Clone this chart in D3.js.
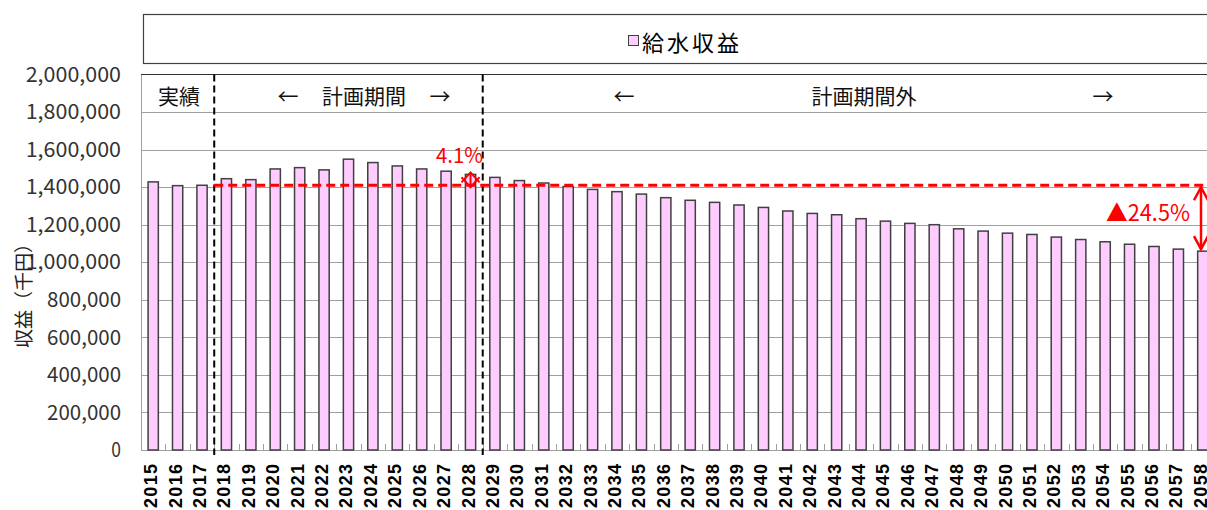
<!DOCTYPE html>
<html>
<head>
<meta charset="utf-8">
<script src="https://cdn.jsdelivr.net/npm/d3@7"></script>
<style>
  body { margin: 0; background: #fff; }
  svg { display: block; }
  .jp { font-family: "Noto Sans CJK JP", sans-serif; }
</style>
</head>
<body>
<div id="chart"></div>
<script>
// Data
const years = ["2015", "2016", "2017", "2018", "2019", "2020", "2021", "2022", "2023", "2024",
    "2025", "2026", "2027", "2028", "2029", "2030", "2031", "2032", "2033", "2034",
    "2035", "2036", "2037", "2038", "2039", "2040", "2041", "2042", "2043", "2044",
    "2045", "2046", "2047", "2048", "2049", "2050", "2051", "2052", "2053", "2054",
    "2055", "2056", "2057", "2058"];
const revenue = [1428000, 1408000, 1410000, 1445000, 1440000, 1497000, 1504000, 1492000, 1549000, 1531000,
    1513000, 1497000, 1485000, 1468000, 1452000, 1435000, 1422000, 1403000, 1388000, 1376000,
    1363000, 1344000, 1330000, 1319000, 1305000, 1292000, 1273000, 1260000, 1253000, 1232000,
    1219000, 1207000, 1200000, 1178000, 1166000, 1155000, 1148000, 1134000, 1121000, 1109000,
    1096000, 1084000, 1070000, 1059000];
const yTicks = [0, 200000, 400000, 600000, 800000, 1000000, 1200000, 1400000, 1600000, 1800000, 2000000];
const seriesName = "給水収益";
const yTitle = "収益（千円）";
const periodLabels = ["実績", "←", "計画期間", "→", "←", "計画期間外", "→"];
const dividerYears = ["2018", "2029"];      // dashed lines sit before these years
const baseYear = "2017";                    // red reference line
const peakNote = { year: "2028", label: "4.1%" };
const dropNote = { year: "2058", label: "▲24.5%" };

// Layout
const W = 1207, H = 510;
const plot = { left: 141, right: 1215, top: 74.5, bottom: 450 };

const svg = d3.select("#chart")
    .append("svg")
    .attr("width", W)
    .attr("height", H);

const x = d3.scaleBand()
    .domain(years)
    .range([plot.left, plot.right])
    .paddingInner(0.58)
    .paddingOuter(0.29);

const y = d3.scaleLinear()
    .domain([0, 2000000])
    .range([plot.bottom, plot.top]);

const cx = d => x(d) + x.bandwidth() / 2;
const edge = d => x(d) - x.step() * x.paddingInner() / 2;

// Legend box
svg.append("rect")
    .attr("x", 143.5).attr("y", 14.5)
    .attr("width", 1100).attr("height", 49)
    .attr("fill", "#fff").attr("stroke", "#404040").attr("stroke-width", 1.2);
svg.append("rect")
    .attr("x", 628.5).attr("y", 35.5).attr("width", 10).attr("height", 10)
    .attr("fill", "#ffccff").attr("stroke", "#404040");
svg.append("text")
    .attr("class", "jp")
    .attr("x", 642).attr("y", 41)
    .attr("dominant-baseline", "central")
    .attr("font-size", 22)
    .attr("textLength", 97)
    .text(seriesName);

// Gridlines
svg.append("g")
    .selectAll("line")
    .data(yTicks.filter(d => d > 0 && d < 2000000))
    .join("line")
    .attr("x1", plot.left).attr("x2", plot.right)
    .attr("y1", d => Math.round(y(d)) + 0.5).attr("y2", d => Math.round(y(d)) + 0.5)
    .attr("stroke", "#a0a0a0");

// plot area top border
svg.append("line")
    .attr("x1", plot.left).attr("x2", plot.right)
    .attr("y1", 74.5).attr("y2", 74.5)
    .attr("stroke", "#333").attr("stroke-width", 1.2);

// Y axis
const yAxis = svg.append("g")
    .attr("transform", `translate(${plot.left},0)`)
    .call(d3.axisLeft(y).tickValues(yTicks).tickSize(0).tickPadding(20).tickFormat(d3.format(",")));
yAxis.select(".domain").attr("stroke", "#a0a0a0");
yAxis.selectAll("text")
    .attr("class", "jp")
    .attr("font-size", 21)
    .attr("fill", "#333")
    .attr("textLength", function() { return this.textContent.length * 10.7 - 1; })
    .attr("lengthAdjust", "spacingAndGlyphs");

svg.append("text")
    .attr("class", "jp")
    .attr("transform", "translate(22,291) rotate(-90)")
    .attr("text-anchor", "middle")
    .attr("dominant-baseline", "central")
    .attr("font-size", 19)
    .attr("fill", "#222")
    .text(yTitle);

// X axis baseline and inner ticks between categories
svg.append("line")
    .attr("x1", plot.left).attr("x2", plot.right)
    .attr("y1", plot.bottom + 0.5).attr("y2", plot.bottom + 0.5)
    .attr("stroke", "#a0a0a0");
svg.append("g")
    .selectAll("line")
    .data(years.slice(1))
    .join("line")
    .attr("x1", d => Math.round(edge(d)) + 0.5).attr("x2", d => Math.round(edge(d)) + 0.5)
    .attr("y1", plot.bottom - 6).attr("y2", plot.bottom)
    .attr("stroke", "#a0a0a0");

// Bars
svg.append("g")
    .selectAll("rect")
    .data(years)
    .join("rect")
    .attr("x", d => x(d))
    .attr("y", (d, i) => y(revenue[i]))
    .attr("width", x.bandwidth())
    .attr("height", (d, i) => plot.bottom - y(revenue[i]))
    .attr("fill", "#ffccff")
    .attr("stroke", "#404040")
    .attr("stroke-width", 1.5);

// X labels (rotated, reading upward)
svg.append("g")
    .selectAll("text")
    .data(years)
    .join("text")
    .attr("transform", d => `translate(${cx(d) - 2},464) rotate(-90)`)
    .attr("text-anchor", "end")
    .attr("dominant-baseline", "central")
    .attr("font-family", "Liberation Sans, Arial, sans-serif")
    .attr("font-weight", "bold")
    .attr("font-size", 18)
    .attr("textLength", 44)
    .attr("lengthAdjust", "spacing")
    .text(d => d);

// Period dividers
svg.append("g")
    .selectAll("line")
    .data(dividerYears)
    .join("line")
    .attr("x1", d => edge(d)).attr("x2", d => edge(d))
    .attr("y1", plot.top).attr("y2", plot.bottom + 5)
    .attr("stroke", "#000").attr("stroke-width", 2)
    .attr("stroke-dasharray", "7,4");

// Period header labels
const headerX = [179, 288, 364, 440, 624, 864, 1103];
svg.append("g")
    .selectAll("text")
    .data(periodLabels)
    .join("text")
    .attr("class", "jp")
    .attr("x", (d, i) => headerX[i])
    .attr("y", 95)
    .attr("text-anchor", "middle")
    .attr("dominant-baseline", "central")
    .attr("font-size", 21)
    .attr("fill", "#111")
    .text(d => d);

// Red reference line at base year value
const baseVal = revenue[years.indexOf(baseYear)];
const yBase = y(baseVal);
svg.append("line")
    .attr("x1", edge(dividerYears[0])).attr("x2", plot.right)
    .attr("y1", yBase).attr("y2", yBase)
    .attr("stroke", "#ff0000").attr("stroke-width", 3)
    .attr("stroke-dasharray", "9,5");

// double-headed red arrow helper
function dblArrow(xPos, y1, y2, head, half, w) {
    const g = svg.append("g").attr("stroke", "#ff0000").attr("stroke-width", w).attr("fill", "none");
    const top = Math.min(y1, y2), bot = Math.max(y1, y2);
    g.append("line").attr("x1", xPos).attr("x2", xPos).attr("y1", top).attr("y2", bot);
    g.append("path").attr("d", `M${xPos - half},${top + head}L${xPos},${top}L${xPos + half},${top + head}`);
    g.append("path").attr("d", `M${xPos - half},${bot - head}L${xPos},${bot}L${xPos + half},${bot - head}`);
}

// 2028 note
const peakVal = revenue[years.indexOf(peakNote.year)];
dblArrow(cx(peakNote.year), y(peakVal) - 2, yBase + 2, 10, 9, 2);
svg.append("text")
    .attr("class", "jp")
    .attr("x", 436).attr("y", 154)
    .attr("dominant-baseline", "central")
    .attr("font-size", 21)
    .attr("fill", "#ff0000")
    .attr("textLength", 47)
    .attr("lengthAdjust", "spacingAndGlyphs")
    .text(peakNote.label);

// 2058 note
const endVal = revenue[years.indexOf(dropNote.year)];
dblArrow(1201, yBase + 2, y(endVal) - 2, 13, 7, 2.5);
svg.append("text")
    .attr("class", "jp")
    .attr("x", 1106).attr("y", 211)
    .attr("dominant-baseline", "central")
    .attr("font-size", 23)
    .attr("fill", "#ff0000")
    .attr("textLength", 84)
    .attr("lengthAdjust", "spacingAndGlyphs")
    .text(dropNote.label);
</script>
</body>
</html>
